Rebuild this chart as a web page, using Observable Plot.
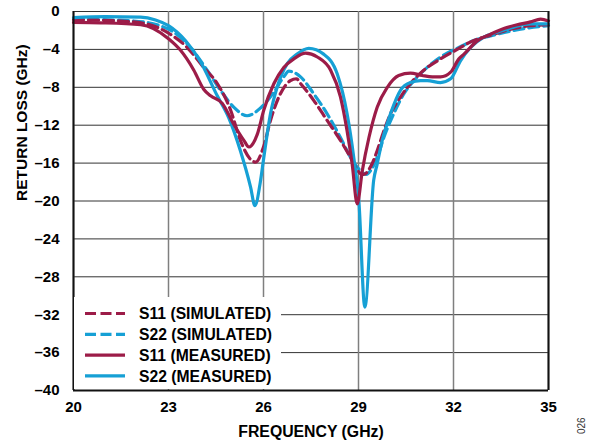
<!DOCTYPE html>
<html>
<head>
<meta charset="utf-8">
<script src="https://cdn.jsdelivr.net/npm/d3@7"></script>
<script src="https://cdn.jsdelivr.net/npm/@observablehq/plot@0.6"></script>
<style>
  body { margin: 0; background: #fff; }
  #chart { width: 591px; height: 446px; }
</style>
</head>
<body>
<div id="chart"></div>
<script>
// Axis ticks
const freqTicks = [20, 23, 26, 29, 32, 35];
const lossTicks = [0, -4, -8, -12, -16, -20, -24, -28, -32, -36, -40];

// S11 (simulated)
const s11SimFreq = [20.0, 21.9, 22.96, 23.59, 24.11, 24.54, 24.96, 25.27, 25.59, 25.75, 26.0, 26.22, 26.53, 26.85, 27.04, 27.17, 27.59, 28.01, 28.43, 28.75, 29.06, 29.16, 29.38, 29.59, 29.8, 30.01, 30.33, 30.64, 31.06, 31.59, 32.17, 32.54, 33.17, 33.9, 34.43, 35.0];
const s11SimLoss = [-0.85, -1.1, -2.2, -3.8, -5.9, -7.6, -10.4, -13.6, -15.6, -15.9, -14.3, -11.5, -8.7, -7.3, -7.1, -7.6, -9.4, -11.5, -13.6, -15.4, -17.1, -17.2, -16.4, -14.7, -12.6, -10.8, -9.0, -7.6, -6.2, -5.0, -3.9, -3.2, -2.5, -1.8, -1.5, -1.4];

// S22 (simulated)
const s22SimFreq = [20.0, 21.9, 22.96, 23.69, 24.22, 24.64, 25.06, 25.48, 25.9, 26.33, 26.64, 26.8, 27.17, 27.59, 28.01, 28.43, 28.75, 29.06, 29.25, 29.38, 29.59, 29.8, 30.11, 30.43, 30.75, 31.17, 31.69, 32.17, 32.54, 33.38, 34.22, 35.0];
const s22SimLoss = [-0.8, -1.0, -1.8, -3.8, -6.2, -8.3, -10.1, -11.0, -10.2, -8.5, -6.9, -6.3, -6.9, -8.7, -10.8, -13.3, -15.4, -16.8, -17.2, -16.8, -15.4, -13.3, -10.8, -8.7, -7.3, -5.9, -4.6, -3.8, -3.2, -2.4, -1.8, -1.5];

// S11 (measured)
const s11MeasFreq = [20.0, 20.85, 22.12, 23.01, 23.38, 23.8, 24.11, 24.33, 24.7, 25.06, 25.38, 25.54, 25.8, 26.01, 26.33, 26.64, 26.96, 27.33, 27.7, 28.12, 28.43, 28.64, 28.8, 28.96, 29.12, 29.33, 29.59, 29.91, 30.27, 30.64, 31.01, 31.33, 31.59, 31.91, 32.17, 32.33, 32.75, 33.17, 33.59, 34.01, 34.43, 34.75, 35.0];
const s11MeasLoss = [-1.15, -1.2, -1.4, -2.9, -4.1, -6.2, -8.2, -8.9, -9.7, -11.9, -13.6, -14.3, -13.0, -10.4, -7.6, -5.9, -5.0, -4.4, -4.8, -6.2, -9.0, -12.6, -16.1, -20.3, -16.8, -13.3, -10.1, -8.0, -6.75, -6.5, -6.75, -6.9, -6.9, -6.4, -5.0, -4.5, -3.1, -2.4, -1.8, -1.4, -1.1, -0.8, -1.0];

// S22 (measured)
const s22MeasFreq = [20.0, 21.0, 22.12, 22.59, 23.0, 23.54, 24.01, 24.54, 24.9, 25.27, 25.59, 25.73, 25.9, 26.01, 26.22, 26.43, 26.75, 27.06, 27.43, 27.9, 28.33, 28.64, 28.85, 29.01, 29.2, 29.48, 29.59, 29.75, 30.01, 30.33, 30.64, 30.96, 31.17, 31.59, 31.91, 32.22, 32.54, 32.96, 33.38, 33.9, 34.43, 34.96, 35.0];
const s22MeasLoss = [-0.65, -0.55, -0.6, -0.9, -1.5, -3.1, -5.3, -8.9, -11.2, -14.7, -18.5, -20.5, -18.0, -15.4, -10.8, -8.0, -5.5, -4.5, -3.9, -4.5, -6.6, -10.8, -15.4, -19.9, -31.2, -17.8, -16.1, -13.6, -10.8, -8.3, -7.5, -7.3, -7.3, -7.5, -7.1, -5.2, -3.8, -2.7, -2.2, -1.65, -1.3, -1.3, -1.3];

const seriesNames = ["S11 (SIMULATED)", "S22 (SIMULATED)", "S11 (MEASURED)", "S22 (MEASURED)"];

const maroon = "#9c1c48";
const blue = "#16a0d5";

const toRows = (f, v) => f.map((x, i) => ({freq: x, loss: v[i]}));
const s11Sim = toRows(s11SimFreq, s11SimLoss);
const s22Sim = toRows(s22SimFreq, s22SimLoss);
const s11Meas = toRows(s11MeasFreq, s11MeasLoss);
const s22Meas = toRows(s22MeasFreq, s22MeasLoss);

const styles = [
  {stroke: maroon, dash: "10,5"},
  {stroke: blue, dash: "10,5"},
  {stroke: maroon, dash: null},
  {stroke: blue, dash: null}
];

const fmt = d => d < 0 ? "\u2013" + Math.abs(d) : String(d);

const lineOpts = (s) => ({
  x: "freq", y: "loss", stroke: s.stroke, strokeWidth: 3.2,
  strokeDasharray: s.dash ?? undefined, curve: "monotone-x"
});

const plot = Plot.plot({
  width: 591,
  height: 446,
  marginLeft: 73,
  marginRight: 43,
  marginTop: 11,
  marginBottom: 56,
  style: {fontFamily: "'Liberation Sans', Arial, sans-serif", fontSize: "15px", fontWeight: "bold", color: "#000", background: "#fff"},
  x: {domain: [20, 35]},
  y: {domain: [-40, 0]},
  marks: [
    Plot.gridY(lossTicks, {stroke: "#333", strokeOpacity: 1, strokeWidth: 1}),
    Plot.gridX(freqTicks, {stroke: "#7f7f7f", strokeOpacity: 1, strokeWidth: 1.5}),
    Plot.line(s22Sim, lineOpts(styles[1])),
    Plot.line(s11Sim, lineOpts(styles[0])),
    Plot.line(s22Meas, lineOpts(styles[3])),
    Plot.line(s11Meas, lineOpts(styles[2])),
    Plot.ruleX([20, 35], {stroke: "#111", strokeWidth: 2}),
    Plot.ruleY([-40], {stroke: "#111", strokeWidth: 2}),
    Plot.axisY(lossTicks, {tickSize: 0, tickPadding: 14, tickFormat: fmt, label: null}),
    Plot.axisX(freqTicks, {tickSize: 0, tickPadding: 11, tickFormat: fmt, label: null}),
    Plot.text(["RETURN LOSS (GHz)"], {frameAnchor: "left", dx: -51, rotate: -90, fontSize: 15.5, fontWeight: "bold"}),
    Plot.text(["FREQUENCY (GHz)"], {frameAnchor: "bottom", dy: 46, fontSize: 15.8, fontWeight: "bold"})
  ]
});

// Legend box in the lower-left corner of the frame
const svg = d3.select(plot);
const lg = svg.append("g")
  .attr("font-family", "'Liberation Sans', Arial, sans-serif")
  .attr("font-weight", "bold").attr("font-size", 15.7).attr("text-anchor", "start");
lg.append("rect").attr("x", 74).attr("y", 297).attr("width", 207).attr("height", 92).attr("fill", "#fff");
seriesNames.forEach((name, i) => {
  const y = 313.5 + i * 20.8;
  const ln = lg.append("line").attr("x1", 85).attr("x2", 125).attr("y1", y).attr("y2", y)
    .attr("stroke", styles[i].stroke).attr("stroke-width", 3.2);
  if (styles[i].dash) ln.attr("stroke-dasharray", "11,4.5");
  lg.append("text").attr("x", 139).attr("y", y).attr("dy", "0.36em").attr("fill", "#000").text(name);
});

// Figure number
svg.append("text").attr("transform", "translate(585,434) rotate(-90)")
  .attr("text-anchor", "start")
  .attr("font-family", "Arial, 'Liberation Sans', sans-serif").attr("font-size", 10)
  .attr("font-weight", "normal").attr("fill", "#333").text("026");

document.getElementById("chart").appendChild(plot);
</script>
</body>
</html>
